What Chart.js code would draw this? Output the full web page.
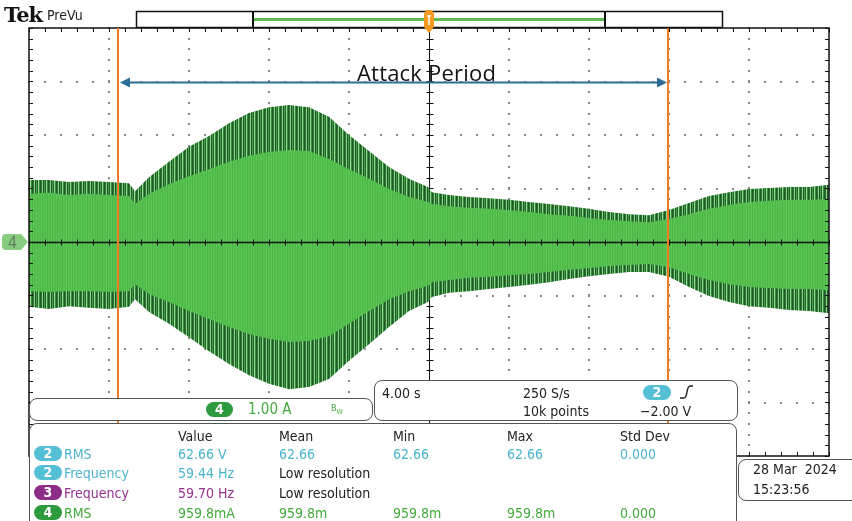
<!DOCTYPE html>
<html>
<head>
<meta charset="utf-8">
<script src="https://cdn.jsdelivr.net/npm/chart.js@4.4.1/dist/chart.umd.min.js"></script>
<style>
  html,body{margin:0;padding:0;background:#fff;}
  #wrap{position:relative;width:852px;height:521px;overflow:hidden;background:#fff;}
  #c{position:absolute;left:0;top:0;}
  .t{position:absolute;white-space:nowrap;font:14px "DejaVu Sans Condensed","DejaVu Sans",sans-serif;line-height:16px;color:#222;}
  .box{position:absolute;background:#fff;border:1.5px solid #555;border-radius:8px;box-sizing:border-box;}
  .pill{position:absolute;height:15px;border-radius:8px;color:#fff;text-align:center;font:bold 14px "DejaVu Sans Condensed","DejaVu Sans",sans-serif;line-height:15px;}
  .cy{color:#4cb4cd;} .pu{color:#962f90;} .gr{color:#44aa3c;}
</style>
</head>
<body>
<div id="wrap">
<canvas id="c" width="852" height="521"></canvas>

<div class="t" style="left:4px;top:4px;font:bold 21px 'DejaVu Serif',serif;line-height:22px;color:#111;letter-spacing:-1px;">Tek</div>
<div class="t" style="left:47px;top:7px;font-size:14px;color:#222;">PreVu</div>
<div class="t" style="left:357px;top:59px;font:22px 'Open Sans',sans-serif;line-height:26px;color:#111;letter-spacing:0.2px;">Attack Period</div>
<div class="t" style="left:8px;top:234px;color:#5d7d5d;font-size:16px;line-height:18px;">4</div>

<!-- vertical scale box -->
<div class="box" style="left:29px;top:398px;width:344px;height:23px;"></div>
<div class="pill" style="left:206px;top:402px;width:27px;background:#2e9a3e;">4</div>
<div class="t gr" style="left:248px;top:401px;font-size:15px;">1.00 A</div>
<div class="t gr" style="left:331px;top:403px;font-size:9px;line-height:10px;">B<span style="font-size:7px;position:relative;top:3px;">W</span></div>

<!-- horizontal box -->
<div class="box" style="left:374px;top:380px;width:364px;height:41px;"></div>
<div class="t" style="left:382px;top:385px;">4.00 s</div>
<div class="t" style="left:523px;top:385px;">250 S/s</div>
<div class="t" style="left:523px;top:403px;">10k points</div>
<div class="pill" style="left:643px;top:385px;width:28px;background:#55bfd5;">2</div>
<svg style="position:absolute;left:678px;top:384px;" width="16" height="16"><path d="M2 14 L6 14 Q8 14 9 8 Q10 2 12 2 L15 2" fill="none" stroke="#222" stroke-width="1.5"/></svg>
<div class="t" style="left:640px;top:403px;">−2.00 V</div>

<!-- measurement box -->
<div class="box" style="left:29px;top:423px;width:708px;height:110px;"></div>
<div class="t" style="left:178px;top:428px;">Value</div>
<div class="t" style="left:279px;top:428px;">Mean</div>
<div class="t" style="left:393px;top:428px;">Min</div>
<div class="t" style="left:507px;top:428px;">Max</div>
<div class="t" style="left:620px;top:428px;">Std Dev</div>

<div class="pill" style="left:34px;top:446px;width:28px;background:#55bfd5;">2</div>
<div class="t cy" style="left:64px;top:446px;">RMS</div>
<div class="t cy" style="left:178px;top:446px;">62.66 V</div>
<div class="t cy" style="left:279px;top:446px;">62.66</div>
<div class="t cy" style="left:393px;top:446px;">62.66</div>
<div class="t cy" style="left:507px;top:446px;">62.66</div>
<div class="t cy" style="left:620px;top:446px;">0.000</div>

<div class="pill" style="left:34px;top:465px;width:28px;background:#55bfd5;">2</div>
<div class="t cy" style="left:64px;top:465px;">Frequency</div>
<div class="t cy" style="left:178px;top:465px;">59.44 Hz</div>
<div class="t" style="left:279px;top:465px;">Low resolution</div>

<div class="pill" style="left:34px;top:485px;width:28px;background:#8c2b88;">3</div>
<div class="t pu" style="left:64px;top:485px;">Frequency</div>
<div class="t pu" style="left:178px;top:485px;">59.70 Hz</div>
<div class="t" style="left:279px;top:485px;">Low resolution</div>

<div class="pill" style="left:34px;top:505px;width:28px;background:#2e9a3e;">4</div>
<div class="t gr" style="left:64px;top:505px;">RMS</div>
<div class="t gr" style="left:178px;top:505px;">959.8mA</div>
<div class="t gr" style="left:279px;top:505px;">959.8m</div>
<div class="t gr" style="left:393px;top:505px;">959.8m</div>
<div class="t gr" style="left:507px;top:505px;">959.8m</div>
<div class="t gr" style="left:620px;top:505px;">0.000</div>

<!-- date box -->
<div class="box" style="left:738px;top:459px;width:130px;height:42px;"></div>
<div class="t" style="left:753px;top:461px;">28 Mar&nbsp;&nbsp;2024</div>
<div class="t" style="left:753px;top:481px;">15:23:56</div>
</div>

<script>
// ---- data (time in s, channel 4 current in A) ----
const times = [-20,-19,-18,-17,-16,-15,-14.7,-14,-13,-12,-11,-10,-9,-8,-7,-6,-5,-4,-3,-2,-1,-0.05,0.15,1,2,3,4,5,6,7,8,9,10,11,12,13,14,15,16,17,18,19,20];
const outerTop = [1.16,1.16,1.12,1.14,1.12,1.10,0.95,1.21,1.50,1.78,1.98,2.22,2.41,2.52,2.56,2.52,2.34,2.00,1.70,1.40,1.18,1.03,0.93,0.88,0.84,0.82,0.79,0.75,0.71,0.67,0.62,0.56,0.52,0.50,0.60,0.73,0.86,0.93,0.99,1.01,1.03,1.03,1.07];
const coreTop = [0.90,0.92,0.88,0.90,0.88,0.86,0.71,0.90,1.08,1.23,1.36,1.50,1.61,1.68,1.72,1.70,1.55,1.36,1.18,0.99,0.84,0.75,0.71,0.67,0.64,0.62,0.60,0.56,0.52,0.49,0.45,0.41,0.39,0.37,0.43,0.52,0.62,0.69,0.75,0.77,0.79,0.79,0.80];
const outerBottom = [-1.21,-1.25,-1.20,-1.23,-1.25,-1.21,-1.07,-1.31,-1.53,-1.78,-2.04,-2.28,-2.49,-2.65,-2.75,-2.71,-2.56,-2.22,-1.91,-1.59,-1.29,-1.12,-1.03,-0.95,-0.92,-0.88,-0.84,-0.80,-0.75,-0.69,-0.64,-0.60,-0.56,-0.56,-0.65,-0.84,-1.01,-1.12,-1.20,-1.23,-1.27,-1.29,-1.33];
const coreBottom = [-0.92,-0.93,-0.92,-0.92,-0.93,-0.92,-0.79,-0.97,-1.12,-1.29,-1.44,-1.59,-1.72,-1.81,-1.87,-1.85,-1.76,-1.53,-1.29,-1.07,-0.92,-0.82,-0.75,-0.71,-0.67,-0.65,-0.62,-0.60,-0.56,-0.52,-0.49,-0.45,-0.43,-0.41,-0.47,-0.60,-0.71,-0.79,-0.84,-0.86,-0.88,-0.88,-0.90];
const cursorTimes = [-15.55, 11.95];
const arrowLevel = 3.0;
const timeRange = [-20, 20];
const ampRange = [-4, 4];

function pts(arr){ return arr.map((v,i)=>({x:times[i], y:v})); }
function stripes(colors){
  const c=document.createElement('canvas'); c.width=colors.length; c.height=1;
  const g=c.getContext('2d');
  colors.forEach((col,i)=>{g.fillStyle=col; g.fillRect(i,0,1,1);});
  return g.createPattern(c,'repeat');
}
const bandPat = stripes(['#1d5c29','#2a7434','#8fcf82','#1d5c29','#3c9f46','#1f622b','#a3d897','#2f8a3a']);
const corePat = stripes(['#4fbb48','#5ec656','#49b544','#5ac352','#54bf4d']);

const scopePlugin = {
  id:'scope',
  beforeDatasetsDraw(chart){
    const ctx=chart.ctx, xs=chart.scales.x, ys=chart.scales.y;
    ctx.save();
    ctx.fillStyle='#8a8a8a';
    for(let d=timeRange[0]+4; d<timeRange[1]; d+=4){
      if(d===0) continue;
      const px=Math.round(xs.getPixelForValue(d));
      for(let a=ampRange[0]; a<=ampRange[1]+1e-6; a+=0.2){
        ctx.fillRect(px-1, Math.round(ys.getPixelForValue(a))-1, 2, 2);
      }
    }
    for(let a=ampRange[0]+1; a<ampRange[1]; a+=1){
      if(a===0) continue;
      const py=Math.round(ys.getPixelForValue(a));
      for(let t=timeRange[0]; t<=timeRange[1]+1e-6; t+=0.8){
        ctx.fillRect(Math.round(xs.getPixelForValue(t))-1, py-1, 2, 2);
      }
    }
    const cx=Math.round(xs.getPixelForValue(0))+0.5;
    ctx.strokeStyle='#111'; ctx.lineWidth=1;
    ctx.beginPath(); ctx.moveTo(cx, chart.chartArea.top); ctx.lineTo(cx, chart.chartArea.bottom); ctx.stroke();
    for(let a=ampRange[0]; a<=ampRange[1]+1e-6; a+=0.2){
      const py=Math.round(ys.getPixelForValue(a))+0.5;
      ctx.beginPath(); ctx.moveTo(cx-3,py); ctx.lineTo(cx+4,py); ctx.stroke();
    }
    ctx.restore();
  },
  afterDatasetsDraw(chart){
    const ctx=chart.ctx, xs=chart.scales.x, ys=chart.scales.y, ca=chart.chartArea;
    ctx.save();
    const cy=Math.round(ys.getPixelForValue(0))+0.5;
    ctx.strokeStyle='#111'; ctx.lineWidth=1.5;
    ctx.beginPath(); ctx.moveTo(ca.left,cy); ctx.lineTo(ca.right,cy); ctx.stroke();
    ctx.lineWidth=1;
    for(let t=timeRange[0]; t<=timeRange[1]+1e-6; t+=0.8){
      const px=Math.round(xs.getPixelForValue(t))+0.5;
      ctx.beginPath(); ctx.moveTo(px,cy-3); ctx.lineTo(px,cy+3); ctx.stroke();
    }
    ctx.strokeStyle='#111'; ctx.lineWidth=1.5;
    ctx.strokeRect(ca.left, ca.top, ca.right-ca.left, ca.bottom-ca.top);
    ctx.lineWidth=1;
    for(let t=timeRange[0]; t<=timeRange[1]+1e-6; t+=0.8){
      const px=Math.round(xs.getPixelForValue(t))+0.5;
      ctx.beginPath(); ctx.moveTo(px,ca.top); ctx.lineTo(px,ca.top+4);
      ctx.moveTo(px,ca.bottom); ctx.lineTo(px,ca.bottom-4); ctx.stroke();
    }
    for(let a=ampRange[0]; a<=ampRange[1]+1e-6; a+=0.2){
      const py=Math.round(ys.getPixelForValue(a))+0.5;
      ctx.beginPath(); ctx.moveTo(ca.left,py); ctx.lineTo(ca.left+4,py);
      ctx.moveTo(ca.right,py); ctx.lineTo(ca.right-4,py); ctx.stroke();
    }
    ctx.strokeStyle='#f07a22'; ctx.lineWidth=2;
    const cxs = cursorTimes.map(t=>Math.round(xs.getPixelForValue(t)));
    cxs.forEach(px=>{ ctx.beginPath(); ctx.moveTo(px,ca.top); ctx.lineTo(px,ca.bottom); ctx.stroke(); });
    const ay=Math.round(ys.getPixelForValue(arrowLevel))+0.5;
    const x1=cxs[0]+2, x2=cxs[1]-1;
    ctx.strokeStyle='#2b6d96'; ctx.fillStyle='#2b6d96'; ctx.lineWidth=2;
    ctx.beginPath(); ctx.moveTo(x1+6,ay); ctx.lineTo(x2-6,ay); ctx.stroke();
    ctx.beginPath(); ctx.moveTo(x1,ay); ctx.lineTo(x1+10,ay-5); ctx.lineTo(x1+10,ay+5); ctx.closePath(); ctx.fill();
    ctx.beginPath(); ctx.moveTo(x2,ay); ctx.lineTo(x2-10,ay-5); ctx.lineTo(x2-10,ay+5); ctx.closePath(); ctx.fill();
    ctx.restore();
  },
  afterDraw(chart){
    const ctx=chart.ctx, xs=chart.scales.x, ys=chart.scales.y;
    ctx.save();
    ctx.fillStyle='#fff'; ctx.fillRect(136,11,586,16);
    ctx.strokeStyle='#111'; ctx.lineWidth=1.5;
    ctx.strokeRect(136.5,11.5,586,16);
    ctx.strokeStyle='#5dbb4f'; ctx.lineWidth=3;
    ctx.beginPath(); ctx.moveTo(254,19.5); ctx.lineTo(604,19.5); ctx.stroke();
    ctx.strokeStyle='#111'; ctx.lineWidth=2;
    ctx.beginPath(); ctx.moveTo(253,11); ctx.lineTo(253,28); ctx.moveTo(605,11); ctx.lineTo(605,28); ctx.stroke();
    const tx=Math.round(xs.getPixelForValue(0));
    ctx.fillStyle='#f29a1f';
    ctx.beginPath();
    ctx.moveTo(tx-3,10); ctx.lineTo(tx+3,10); ctx.lineTo(tx+5,14); ctx.lineTo(tx+5,27);
    ctx.lineTo(tx,33); ctx.lineTo(tx-5,27); ctx.lineTo(tx-5,14); ctx.closePath(); ctx.fill();
    ctx.strokeStyle='#fff'; ctx.lineWidth=1.5;
    ctx.beginPath(); ctx.moveTo(tx-2,16); ctx.lineTo(tx+2,16); ctx.moveTo(tx,16); ctx.lineTo(tx,25); ctx.stroke();
    const my=Math.round(ys.getPixelForValue(0));
    ctx.fillStyle='#88cd7f';
    ctx.beginPath();
    ctx.moveTo(6,my-8); ctx.lineTo(21,my-8); ctx.lineTo(28,my); ctx.lineTo(21,my+8); ctx.lineTo(6,my+8);
    ctx.quadraticCurveTo(2,my+8,2,my+4); ctx.lineTo(2,my-4); ctx.quadraticCurveTo(2,my-8,6,my-8);
    ctx.closePath(); ctx.fill();
    ctx.restore();
  }
};

new Chart(document.getElementById('c'), {
  type:'line',
  data:{ datasets:[
    {label:'coreTop', data:pts(coreTop), fill:'+1', backgroundColor:corePat, borderWidth:0, pointRadius:0, order:0},
    {label:'coreBottom', data:pts(coreBottom), fill:false, borderWidth:0, pointRadius:0, order:0},
    {label:'outerTop', data:pts(outerTop), fill:'+1', backgroundColor:bandPat, borderWidth:0, pointRadius:0, order:1},
    {label:'outerBottom', data:pts(outerBottom), fill:false, borderWidth:0, pointRadius:0, order:1}
  ]},
  options:{
    responsive:false, animation:false, devicePixelRatio:1,
    layout:{padding:{left:29, right:23, top:28, bottom:65}},
    scales:{
      x:{type:'linear', min:timeRange[0], max:timeRange[1], display:false},
      y:{type:'linear', min:ampRange[0], max:ampRange[1], display:false}
    },
    plugins:{legend:{display:false}, tooltip:{enabled:false}},
    elements:{line:{tension:0}}
  },
  plugins:[scopePlugin]
});
</script>
</body>
</html>
